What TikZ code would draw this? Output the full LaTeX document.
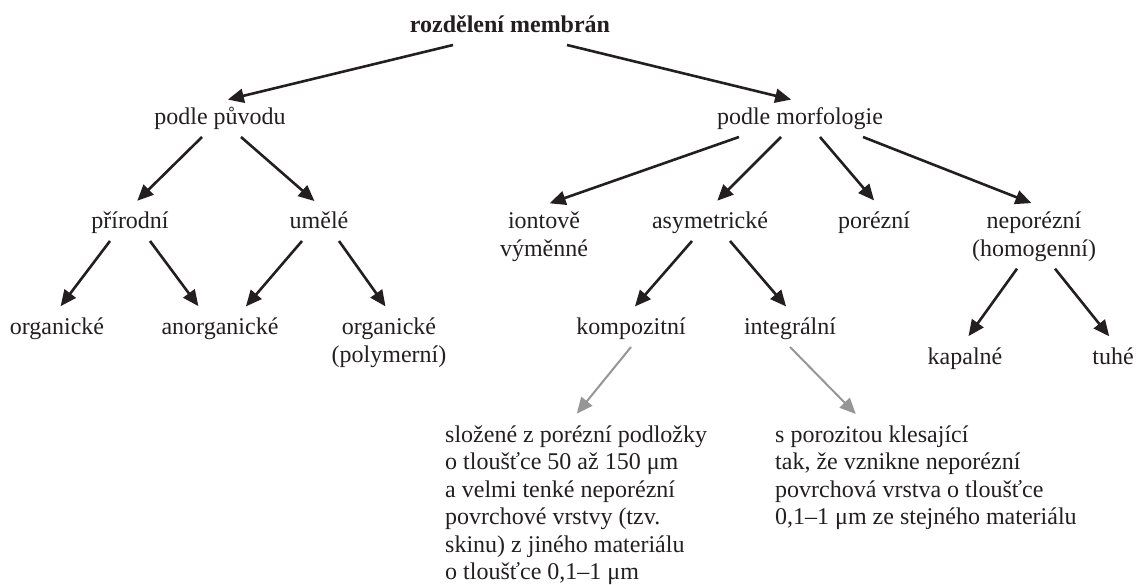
\documentclass[tikz,border=0pt]{standalone}
\usepackage{fontspec}
\setmainfont{Liberation Serif}
\usetikzlibrary{arrows.meta}
\definecolor{ink}{RGB}{35,31,32}
\definecolor{seda}{RGB}{150,150,150}
\tikzset{
  pojem/.style={anchor=base, inner sep=0pt, outer ysep=7pt, text=ink,
    font=\fontsize{24}{27.5}\selectfont, align=center},
  jedna/.style={pojem, text height=17pt, text depth=5pt},
  popis/.style={pojem, anchor=base west, align=left},
  sipka/.style={-{Triangle[length=16pt,width=14pt]}, line width=2.6pt, draw=ink, shorten >=6pt},
  seda sipka/.style={sipka, draw=seda, line width=2pt}
}
\begin{document}
\begin{tikzpicture}[x=1pt, y=-1pt]
  \useasboundingbox (0,0) rectangle (1136,585);

  % koren
  \node[jedna, font=\fontsize{24}{27.5}\selectfont\bfseries] (rozdeleni) at (510,33) {rozdělení membrán};

  % prvni uroven
  \node[jedna] (puvodu) at (220,125) {podle původu};
  \node[jedna] (morfologie) at (800,125) {podle morfologie};

  % druha uroven (viceradkove uzly se umistuji podle posledniho radku)
  \node[jedna] (prirodni) at (130,229) {přírodní};
  \node[jedna] (umele) at (319,229) {umělé};
  \node[pojem] (iontove) at (544,256.5) {iontově\\výměnné};
  \node[jedna] (asymetricke) at (710,229) {asymetrické};
  \node[jedna] (porezni) at (874,229) {porézní};
  \node[pojem] (neporezni) at (1034,256.5) {neporézní\\(homogenní)};

  % treti uroven
  \node[jedna] (organicke) at (57,335) {organické};
  \node[jedna] (anorganicke) at (220,335) {anorganické};
  \node[pojem] (polymerni) at (389,362.5) {organické\\(polymerní)};
  \node[jedna] (kompozitni) at (631,335) {kompozitní};
  \node[jedna] (integralni) at (790,335) {integrální};
  \node[jedna] (kapalne) at (965,365) {kapalné};
  \node[jedna] (tuhe) at (1113,365) {tuhé};

  % popisy
  \node[popis] (slozene) at (445,579.5) {složené z porézní podložky\\o tloušťce 50 až 150 μm\\a velmi tenké neporézní\\povrchové vrstvy (tzv.\\skinu) z jiného materiálu\\o tloušťce 0,1–1 μm};
  \node[popis] (porozita) at (775,524.5) {s porozitou klesající\\tak, že vznikne neporézní\\povrchová vrstva o tloušťce\\0,1–1 μm ze stejného materiálu};

  % sipky
  \draw[sipka] ([xshift=-57pt]rozdeleni.south) -- ([xshift=2pt]puvodu.north);
  \draw[sipka] ([xshift=57pt]rozdeleni.south) -- ([xshift=-3pt]morfologie.north);

  \draw[sipka] ([xshift=-18pt]puvodu.south) -- ([xshift=3pt]prirodni.north);
  \draw[sipka] ([xshift=21pt]puvodu.south) -- (umele.north);

  \draw[sipka] ([xshift=-61pt]morfologie.south) -- (iontove.north);
  \draw[sipka] ([xshift=-19pt]morfologie.south) -- ([xshift=3pt]asymetricke.north);
  \draw[sipka] ([xshift=20pt]morfologie.south) -- ([xshift=4pt]porezni.north);
  \draw[sipka] ([xshift=63pt]morfologie.south) -- ([xshift=3pt]neporezni.north);

  \draw[sipka] ([xshift=-20pt]prirodni.south) -- (organicke.north);
  \draw[sipka] ([xshift=20pt]prirodni.south) -- ([xshift=-18pt]anorganicke.north);
  \draw[sipka] ([xshift=-17pt]umele.south) -- ([xshift=22pt]anorganicke.north);
  \draw[sipka] ([xshift=20pt]umele.south) -- (polymerni.north);

  \draw[sipka] ([xshift=-18pt]asymetricke.south) -- (kompozitni.north);
  \draw[sipka] ([xshift=20pt]asymetricke.south) -- (integralni.north);

  \draw[sipka] ([xshift=-17pt]neporezni.south) -- (kapalne.north);
  \draw[sipka] ([xshift=21pt]neporezni.south) -- (tuhe.north);

  \draw[seda sipka] (kompozitni.south) -- ([xshift=128pt]slozene.north west);
  \draw[seda sipka] (integralni.south) -- ([xshift=85pt]porozita.north west);
\end{tikzpicture}
\end{document}
